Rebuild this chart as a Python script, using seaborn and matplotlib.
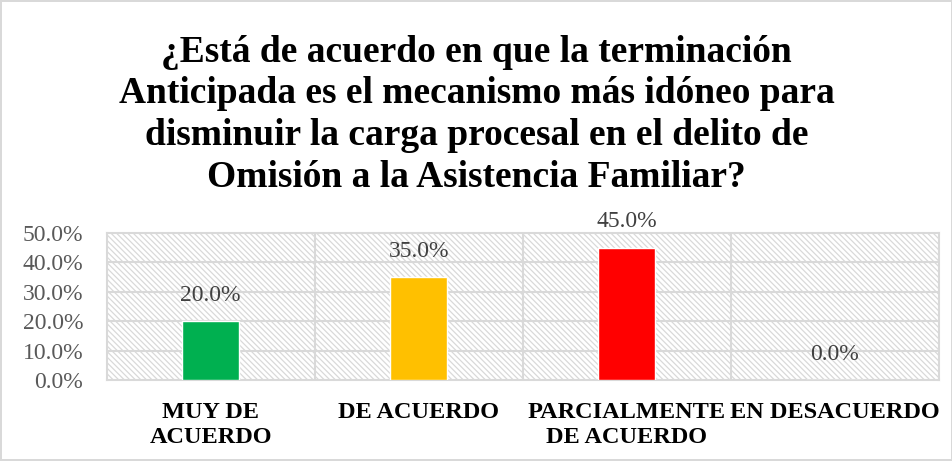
import matplotlib
matplotlib.use("Agg")
import matplotlib.pyplot as plt
import seaborn as sns
import pandas as pd
from matplotlib.patches import Rectangle

categories = ["MUY DE\nACUERDO", "DE ACUERDO", "PARCIALMENTE\nDE ACUERDO", "EN DESACUERDO"]
values = [0.20, 0.35, 0.45, 0.0]
colors = ["#00b050", "#ffc000", "#ff0000", "#5b9bd5"]
yticks = [0.0, 0.1, 0.2, 0.3, 0.4, 0.5]
title = ("¿Está de acuerdo en que la terminación\nAnticipada es el mecanismo más idóneo para\n"
         "disminuir la carga procesal en el delito de\nOmisión a la Asistencia Familiar?")

sns.set_style("white")
plt.rcParams['font.family'] = ['Liberation Serif', 'DejaVu Serif']
plt.rcParams['hatch.linewidth'] = 0.9

df = pd.DataFrame({"cat": categories, "val": values})

fig = plt.figure(figsize=(9.53, 4.61), dpi=100)
fig.patch.set_edgecolor("#d9d9d9")
fig.patch.set_linewidth(1.5)
ax = fig.add_axes([0.112, 0.1757, 0.873, 0.3189])

grid_c = "#d9d9d9"
ax.add_patch(Rectangle((0, 0), 1, 1, transform=ax.transAxes, fill=False,
                       hatch="\\\\\\\\\\\\", edgecolor=grid_c, lw=0, zorder=0))

sns.barplot(data=df, x="cat", y="val", hue="cat", palette=colors, legend=False,
            width=0.275, ax=ax, zorder=3, saturation=1)

ax.set_ylim(0, 0.5)
ax.set_xlim(-0.5, len(categories) - 0.5)
ax.set_yticks(yticks)
ax.set_yticklabels([f"{v*100:.1f}%" for v in yticks], fontsize=17, color="#595959")
ax.tick_params(axis="y", length=0, pad=17)
for i in range(len(categories) - 1):
    ax.axvline(i + 0.5, color=grid_c, lw=1.5, zorder=1)
for y in yticks[1:-1]:
    ax.axhline(y, color=grid_c, lw=1.5, zorder=1)
for s in ax.spines.values():
    s.set_color(grid_c)
    s.set_linewidth(1.5)

ax.set_xticks(range(len(categories)))
ax.set_xticklabels(categories, fontsize=17.5, fontweight="bold", color="black", linespacing=1.25)
ax.tick_params(axis="x", length=0, pad=16)
ax.set_xlabel("")
ax.set_ylabel("")

for i, v in enumerate(values):
    ax.annotate(f"{v*100:.1f}%", (i, v), xytext=(0, 11), textcoords="offset points",
                ha="center", va="bottom", fontsize=17, color="#404040")

fig.text(0.5, 0.925, title, ha="center", va="top", fontsize=27, fontweight="bold",
         color="black", linespacing=1.25)

fig.savefig("out.png", dpi=100)
